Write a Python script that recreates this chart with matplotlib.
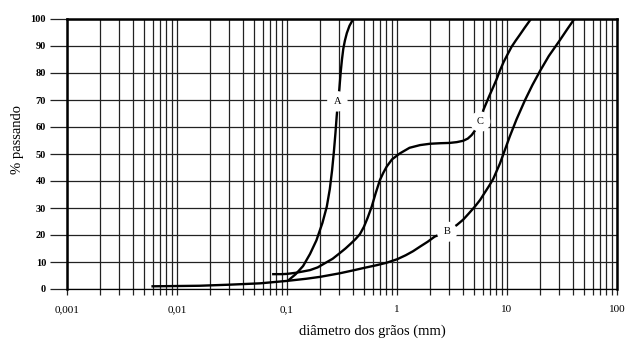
import numpy as np
import matplotlib
matplotlib.use("Agg")
import matplotlib.pyplot as plt
from matplotlib.ticker import LogLocator, FixedLocator

plt.rcParams['font.family'] = ['Liberation Serif', 'DejaVu Serif']

# curva A
a_diam = [0.105, 0.12, 0.14, 0.162, 0.185, 0.21, 0.23, 0.245, 0.257, 0.267,
          0.276, 0.283, 0.29, 0.299, 0.308, 0.316, 0.325, 0.336, 0.35, 0.37,
          0.40]
a_pass = [3.5, 5.5, 8.5, 13, 18, 24.5, 30.5, 37, 44, 51,
          58, 64, 69, 74, 80.5, 85, 89, 92, 94.8, 97.5,
          100]

# curva B
b_diam = [0.006, 0.01, 0.016, 0.03, 0.057, 0.1, 0.15, 0.2, 0.3, 0.4, 0.5,
          0.65, 0.8, 1.0, 1.2, 1.4, 1.62, 1.9, 2.2, 2.85, 3.5, 4.0, 4.5, 5.1,
          5.7, 6.3, 6.9, 7.5, 8.63, 10.6, 12.2, 14.6, 17, 20, 24, 30.3, 35,
          40.6]
b_pass = [1, 1.1, 1.2, 1.6, 2.1, 3, 3.8, 4.5, 5.8, 6.9, 7.8,
          8.8, 9.7, 11, 12.5, 14, 15.7, 17.5, 19.4, 21.3, 23.7, 25.7, 28, 30.5,
          33, 35.8, 38.3, 40.8, 46.5, 56.5, 62.8, 70, 75.5, 80.8, 86.3, 92.2, 96,
          99.8]

# curva C
c_diam = [0.075, 0.09, 0.1, 0.12, 0.14, 0.162, 0.19, 0.22, 0.26, 0.3, 0.34,
          0.38, 0.42, 0.46, 0.5, 0.54, 0.589, 0.64, 0.70, 0.75, 0.805, 0.9,
          1.06, 1.3, 1.62, 2.0, 2.5, 3.0, 3.5, 4.0, 4.4, 4.77, 5.1, 5.4, 5.7,
          6.1, 6.9, 7.5, 8.05, 8.6, 9.3, 10, 11, 12, 13, 14.5, 16.5]
c_pass = [5.5, 5.5, 5.6, 6, 6.5, 7, 8, 9.5, 11.2, 13.2, 15,
          16.8, 18.5, 20.3, 23, 26.3, 30.5, 35.5, 40.4, 43, 45.3, 48,
          50.2, 52.3, 53.3, 53.8, 54, 54.1, 54.4, 54.9, 55.7, 57, 58.6, 60.3, 62,
          66.3, 71.5, 74.8, 77.7, 80.8, 84, 86.5, 89.7, 92, 94, 96.8, 100]

# rótulos das curvas
lbl_text = ['A', 'B', 'C']
lbl_diam = [0.287, 2.85, 5.7]
lbl_pass = [69.5, 21.2, 62]

x_ticks = [0.001, 0.01, 0.1, 1, 10, 100]
x_labels = ['0,001', '0,01', '0,1', '1', '10', '100']
y_ticks = list(range(0, 101, 10))

fig = plt.figure(figsize=(6.27, 3.47), dpi=100)
ax = fig.add_axes([67/627, 1-289/347, 550/627, 270/347])

ax.set_xscale('log')
ax.set_xlim(0.001, 100)
ax.set_ylim(0, 100)

ax.xaxis.set_major_locator(FixedLocator(x_ticks))
ax.xaxis.set_minor_locator(LogLocator(base=10, subs=np.arange(2, 10)))
ax.set_xticklabels(x_labels, fontsize=8)
ax.xaxis.set_minor_formatter(plt.NullFormatter())
ax.set_yticks(y_ticks)
ax.set_yticklabels([str(v) for v in y_ticks], fontsize=7.5, fontweight='bold')

ax.grid(True, which='both', axis='x', color='#222222', lw=0.9)
ax.grid(True, which='major', axis='y', color='#222222', lw=0.9)

ax.tick_params(axis='x', which='both', length=4.5, width=0.9, pad=7, color='#222222')
ax.tick_params(axis='y', length=12, width=0.9, pad=3, color='#222222')

for s in ['left', 'top', 'right']:
    ax.spines[s].set_linewidth(1.8)
ax.spines['bottom'].set_linewidth(0.9)

for xs, ys in [(a_diam, a_pass), (b_diam, b_pass), (c_diam, c_pass)]:
    ax.plot(xs, ys, color='black', lw=1.7, zorder=3, solid_joinstyle='round')

for t, x, y in zip(lbl_text, lbl_diam, lbl_pass):
    ax.text(x, y, t, fontsize=7.5, ha='center', va='center', zorder=5,
            bbox=dict(boxstyle='circle,pad=0.55', fc='white', ec='none'))

fig.text(372/627, 1-331/347, 'diâmetro dos grãos (mm)', fontsize=10.5,
         ha='center', va='center')
fig.text(18/627, 1-140/347, '% passando', fontsize=10.5, rotation=90,
         ha='center', va='center')

fig.savefig('out.png', dpi=100)
